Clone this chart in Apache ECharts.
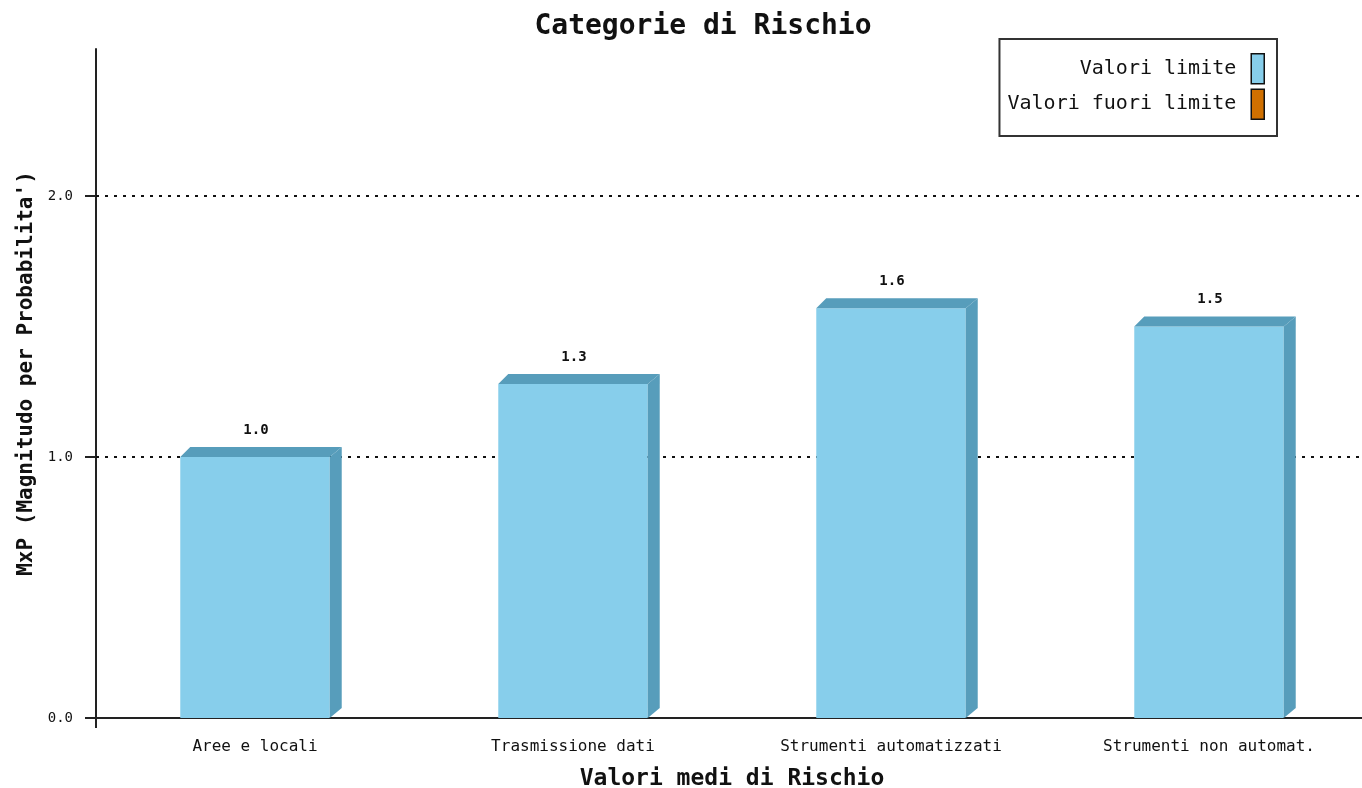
<!DOCTYPE html>
<html>
<head>
<meta charset="utf-8">
<script src="https://cdn.jsdelivr.net/npm/echarts@6/dist/echarts.min.js"></script>
<style>html,body{margin:0;padding:0;background:#fff;}#c{width:1362px;height:788px;}</style>
</head>
<body>
<div id="c"></div>
<script>
const categories = ['Aree e locali', 'Trasmissione dati', 'Strumenti automatizzati', 'Strumenti non automat.'];
const values = [1.0, 1.28, 1.57, 1.50];
const yTicks = [0, 1, 2];
const seriesNames = ['Valori limite', 'Valori fuori limite'];
const seriesColors = ['#87CEEB', '#D07000'];

const FONT = 'DejaVu Sans Mono';
const chart = echarts.init(document.getElementById('c'));

function renderBar(params, api) {
  const x = api.value(0), v = api.value(1);
  const top = api.coord([x, v]);
  const base = api.coord([x, 0]);
  const bw = api.size([1, 0])[0] * 0.47;
  const l = top[0] - bw / 2, r = top[0] + bw / 2;
  const ty = top[1], by = base[1];
  const dxl = 10, dxr = 12, dy = 10;
  return {
    type: 'group',
    children: [
      { type: 'rect', shape: { x: l, y: ty, width: bw, height: by - ty }, style: { fill: '#87CEEB' } },
      { type: 'polygon', shape: { points: [[l, ty], [l + dxl, ty - dy], [r + dxr, ty - dy], [r, ty]] }, style: { fill: '#579DBB' } },
      { type: 'polygon', shape: { points: [[r, ty], [r + dxr, ty - dy], [r + dxr, by - dy], [r, by]] }, style: { fill: '#579DBB' } },
      { type: 'text', x: top[0] + 1, y: ty - dy - 17, style: { text: v.toFixed(1), fontFamily: FONT, fontSize: 14, fontWeight: 'bold', fill: '#111', align: 'center', verticalAlign: 'middle' } }
    ]
  };
}

chart.setOption({
  animation: false,
  backgroundColor: '#fff',
  title: {
    text: 'Categorie di Rischio', left: 698, top: 8, textAlign: 'center',
    textStyle: { fontFamily: FONT, fontSize: 28, fontWeight: 'bold', color: '#111' }
  },
  legend: {
    orient: 'vertical', right: 85, top: 39, align: 'right',
    itemWidth: 13, itemHeight: 30, itemGap: 4,
    padding: [14, 12, 16, 8],
    borderColor: '#333', borderWidth: 2,
    selectedMode: false, icon: 'rect',
    itemStyle: { borderColor: '#111', borderWidth: 1.5 },
    textStyle: { fontFamily: FONT, fontSize: 20, color: '#111', padding: [12, 10, 0, 0] },
    data: seriesNames
  },
  grid: { left: 96, top: 49, width: 1272, height: 669, containLabel: false, outerBoundsMode: 'none' },
  xAxis: {
    type: 'category', data: categories,
    name: 'Valori medi di Rischio', nameLocation: 'middle', nameGap: 50,
    nameTextStyle: { fontFamily: FONT, fontSize: 23, fontWeight: 'bold', color: '#111' },
    axisLine: { lineStyle: { color: '#222', width: 2 } },
    axisTick: { show: true, length: 10, interval: function (i) { return i === 0; }, lineStyle: { color: '#222', width: 2 } },
    axisLabel: { margin: 21, fontFamily: FONT, fontSize: 16, color: '#111' },
    splitLine: { show: false }
  },
  yAxis: {
    type: 'value', min: 0, max: 2.563, interval: 1,
    name: "MxP (Magnitudo per Probabilita')", nameLocation: 'middle', nameGap: 58,
    nameTextStyle: { fontFamily: FONT, fontSize: 21, fontWeight: 'bold', color: '#111', padding: [0, 0, 0, 20] },
    axisLine: { show: true, lineStyle: { color: '#222', width: 2 } },
    axisTick: { show: true, length: 11, customValues: yTicks, lineStyle: { color: '#222', width: 2 } },
    axisLabel: { margin: 23, fontFamily: FONT, fontSize: 14, color: '#111', customValues: yTicks, formatter: function (v) { return v.toFixed(1); } },
    splitLine: { show: false }
  },
  series: [
    {
      name: seriesNames[0], type: 'custom', z: 3,
      itemStyle: { color: seriesColors[0] },
      renderItem: renderBar,
      encode: { x: 0, y: 1 },
      data: values.map(function (v, i) { return [i, v]; }),
      markLine: {
        silent: true, symbol: 'none', z: 1, label: { show: false },
        lineStyle: { color: '#111', type: [3, 6], width: 2 },
        data: yTicks.filter(function (t) { return t > 0; }).map(function (t) { return { yAxis: t }; })
      }
    },
    {
      name: seriesNames[1], type: 'bar', data: [],
      itemStyle: { color: seriesColors[1] }
    }
  ]
});
</script>
</body>
</html>
